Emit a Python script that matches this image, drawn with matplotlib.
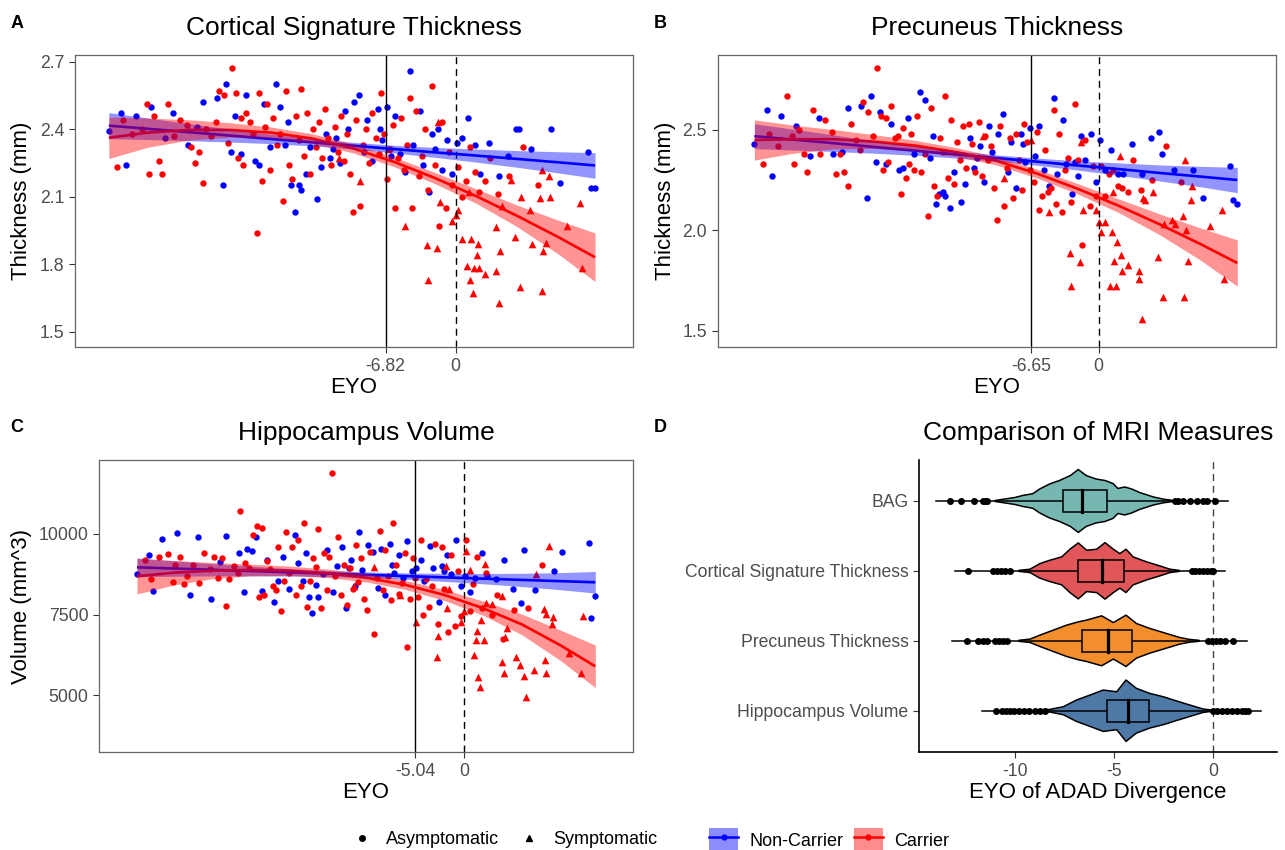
import numpy as np
import matplotlib
matplotlib.use("Agg")
import matplotlib.pyplot as plt
from matplotlib.lines import Line2D
from matplotlib.patches import Patch, Polygon, Rectangle

plt.rcParams['font.family'] = ['Liberation Sans', 'DejaVu Sans']
plt.rcParams['axes.unicode_minus'] = False

# ------------------------------------------------------------------ data
# Non-carriers (all asymptomatic)
nc_eyo = [-33.8, -32.6, -32.1, -31.2, -29.7, -28.3, -27.5, -26.1, -25.2, -24.6,
          -23.3, -22.7, -22.4, -21.9, -21.5, -20.9, -20.4, -19.6, -19.2, -18.7,
          -18.1, -17.5, -17.1, -16.6, -16.3, -16.0, -15.7, -15.3, -15.1, -14.6,
          -14.2, -13.5, -13.1, -12.6, -12.2, -11.7, -11.3, -10.8, -10.5, -9.9,
          -9.4, -8.9, -8.6, -8.1, -7.6, -7.2, -6.7, -6.3, -5.9, -5.4,
          -4.9, -4.4, -4.1, -3.5, -3.2, -2.6, -2.3, -1.7, -1.3, -0.8,
          -0.3, 0.1, 0.6, 1.2, 1.9, 2.4, 3.3, 4.2, 5.1, 5.9,
          6.2, 7.4, 9.3, 10.2, 12.9, 13.2, 13.6, -11.9, -7.4, -2.0]
nc_cst = [2.39, 2.47, 2.24, 2.46, 2.50, 2.36, 2.47, 2.33, 2.41, 2.52,
          2.54, 2.15, 2.60, 2.30, 2.46, 2.29, 2.55, 2.26, 2.24, 2.51,
          2.32, 2.60, 2.50, 2.33, 2.43, 2.15, 2.03, 2.15, 2.13, 2.20,
          2.32, 2.09, 2.23, 2.38, 2.27, 2.36, 2.25, 2.48, 2.40, 2.52,
          2.55, 2.30, 2.44, 2.26, 2.49, 2.35, 2.50, 2.28, 2.46, 2.29,
          2.21, 2.66, 2.33, 2.48, 2.24, 2.12, 2.38, 2.40, 2.22, 2.35,
          2.20, 2.34, 2.36, 2.45, 2.33, 2.20, 2.34, 2.19, 2.28, 2.40,
          2.40, 2.31, 2.40, 2.16, 2.30, 2.14, 2.14, 2.31, 2.40, 2.31]
nc_prec = [2.43, 2.60, 2.27, 2.57, 2.52, 2.37, 2.56, 2.38, 2.39, 2.61,
           2.62, 2.16, 2.67, 2.34, 2.59, 2.33, 2.53, 2.30, 2.31, 2.56,
           2.38, 2.69, 2.65, 2.36, 2.47, 2.13, 2.18, 2.19, 2.17, 2.11,
           2.29, 2.14, 2.23, 2.46, 2.31, 2.42, 2.24, 2.52, 2.39, 2.48,
           2.58, 2.29, 2.44, 2.21, 2.48, 2.34, 2.51, 2.37, 2.52, 2.30,
           2.22, 2.66, 2.28, 2.55, 2.33, 2.18, 2.34, 2.47, 2.35, 2.48,
           2.24, 2.45, 2.30, 2.40, 2.28, 2.28, 2.43, 2.28, 2.46, 2.49,
           2.38, 2.30, 2.30, 2.16, 2.32, 2.15, 2.13, 2.36, 2.43, 2.27]
nc_hip = [8750, 9350, 8240, 9850, 10020, 8100, 9900, 7980, 9120, 9950,
          9400, 8200, 9550, 9460, 9900, 8230, 9200, 7900, 8540, 9300,
          8300, 9980, 9100, 8550, 9400, 8050, 7540, 8420, 8060, 8750,
          9500, 8200, 9000, 9600, 7700, 9200, 8400, 10050, 8870, 9650,
          9450, 8330, 9520, 8100, 9700, 8800, 9350, 8650, 9780, 8850,
          8950, 9200, 8550, 9620, 8950, 7900, 9000, 9350, 8750, 9800,
          8400, 8700, 8200, 8650, 9400, 8700, 8600, 9200, 8300, 7870,
          9500, 8270, 8860, 9430, 9730, 7390, 8080, 8950, 9050, 8850]

# Carriers, asymptomatic
asym_eyo = [-33.0, -32.4, -31.5, -30.6, -30.1, -29.9, -29.4, -28.9, -28.6, -28.0,
            -27.4, -26.9, -26.2, -25.8, -25.4, -25.0, -24.6, -24.3, -23.8, -23.4,
            -23.1, -22.6, -22.2, -21.8, -21.4, -21.2, -20.9, -20.7, -20.4, -20.0,
            -19.7, -19.4, -19.2, -18.9, -18.6, -18.4, -18.1, -17.8, -17.4, -17.1,
            -16.8, -16.5, -16.2, -15.9, -15.6, -15.3, -15.1, -14.8, -14.5, -14.2,
            -13.9, -13.6, -13.3, -13.0, -12.7, -12.4, -12.1, -11.8, -11.5, -11.2,
            -10.9, -10.6, -10.3, -10.0, -9.7, -9.3, -9.0, -8.7, -8.4, -8.1,
            -7.8, -7.5, -7.3, -7.0, -6.7, -6.4, -6.1, -5.9, -5.6, -5.3,
            -5.0, -4.7, -4.4, -4.2, -3.9, -3.6, -3.3, -3.0, -2.7, -2.3,
            -2.0, -1.6, -1.3, -0.9, -0.6, -0.3, 0.25, 0.6, 1.0, 1.4,
            1.9, 2.3, 2.9, 3.4, 4.1, 5.2, 6.6, 8.05]
asym_cst = [2.23, 2.44, 2.38, 2.40, 2.51, 2.20, 2.46, 2.26, 2.20, 2.51,
            2.37, 2.44, 2.42, 2.32, 2.25, 2.30, 2.16, 2.40, 2.37, 2.43,
            2.57, 2.55, 2.34, 2.67, 2.56, 2.27, 2.45, 2.24, 2.47, 2.43,
            2.38, 1.94, 2.56, 2.17, 2.41, 2.51, 2.22, 2.45, 2.33, 2.38,
            2.08, 2.57, 2.24, 2.18, 2.46, 2.35, 2.58, 2.28, 2.47, 2.20,
            2.40, 2.32, 2.43, 2.27, 2.49, 2.36, 2.24, 2.41, 2.30, 2.46,
            2.26, 2.38, 2.20, 2.03, 2.44, 2.06, 2.33, 2.40, 2.25, 2.47,
            2.36, 2.29, 2.56, 2.38, 2.18, 2.31, 2.42, 2.05, 2.27, 2.45,
            2.22, 2.33, 2.54, 2.05, 2.48, 2.19, 2.28, 2.40, 2.13, 2.59,
            2.24, 1.97, 2.43, 2.05, 2.30, 2.15, 2.23, 2.10, 2.17, 2.32,
            2.21, 2.12, 2.17, 2.27, 2.11, 2.19, 2.32, 2.15]
asym_prec = [2.33, 2.48, 2.42, 2.67, 2.47, 2.33, 2.50, 2.38, 2.29, 2.60,
             2.38, 2.55, 2.49, 2.28, 2.38, 2.29, 2.22, 2.53, 2.45, 2.40,
             2.64, 2.59, 2.47, 2.81, 2.57, 2.30, 2.56, 2.34, 2.62, 2.46,
             2.47, 2.18, 2.51, 2.26, 2.33, 2.48, 2.30, 2.57, 2.29, 2.38,
             2.07, 2.61, 2.22, 2.17, 2.46, 2.39, 2.67, 2.26, 2.55, 2.23,
             2.44, 2.35, 2.52, 2.31, 2.53, 2.43, 2.29, 2.54, 2.27, 2.47,
             2.35, 2.42, 2.21, 2.05, 2.52, 2.12, 2.31, 2.46, 2.16, 2.48,
             2.35, 2.20, 2.53, 2.44, 2.30, 2.24, 2.49, 2.10, 2.17, 2.40,
             2.19, 2.21, 2.60, 2.13, 2.48, 2.09, 2.30, 2.36, 2.14, 2.63,
             2.35, 1.93, 2.45, 2.12, 2.32, 2.17, 2.32, 2.17, 2.28, 2.30,
             2.22, 2.21, 2.19, 2.35, 2.20, 2.25, 2.42, 2.24]
asym_hip = [9200, 8600, 9300, 9380, 8500, 9050, 9280, 8450, 8700, 9050,
            8470, 9400, 8900, 9300, 8650, 9260, 7760, 8600, 9000, 8800,
            10700, 9100, 8960, 9980, 10250, 8050, 10200, 8120, 9150, 8930,
            8400, 8250, 9600, 7600, 8550, 10050, 8800, 9600, 8100, 9800,
            8400, 10350, 7730, 8550, 9250, 8980, 10150, 7720, 9400, 8250,
            9280, 11900, 8700, 9900, 8100, 9050, 7800, 8950, 8300, 9650,
            8500, 9250, 8000, 7650, 9450, 6900, 8650, 10100, 8250, 9500,
            8700, 7950, 10350, 9050, 8150, 8480, 9400, 6500, 8000, 9250,
            8650, 8050, 9800, 7500, 8600, 7750, 8400, 9700, 7200, 9600,
            8300, 6950, 9350, 7150, 8850, 7450, 9800, 7600, 8450, 9300,
            7700, 8800, 7500, 8100, 6750, 7650, 7700, 9050]

# Carriers, symptomatic
sym_eyo = [-11.4, -9.3, -6.6, -4.9, -2.8, -2.7, -1.85, -1.75, -1.5, -0.3,
           0.0, 0.25, 0.6, 1.07, 1.3, 1.4, 1.46, 1.66, 1.8, 2.1,
           2.2, 2.3, 2.9, 3.93, 3.97, 4.2, 4.3, 4.5, 5.36, 5.78,
           6.27, 6.4, 7.24, 7.44, 8.28, 8.38, 8.54, 8.8, 8.45, 9.1,
           9.2, 10.9, 12.1, 12.3]
sym_cst = [2.27, 2.17, 2.31, 1.97, 1.885, 1.73, 1.87, 2.43, 2.075, 1.99,
           2.02, 2.04, 1.91, 1.79, 2.12, 1.73, 1.91, 1.67, 1.785, 1.84,
           1.89, 1.785, 1.756, 1.964, 1.77, 1.629, 1.86, 2.06, 2.174, 1.922,
           1.697, 2.10, 2.04, 1.89, 2.093, 1.682, 1.86, 1.895, 2.22, 2.19,
           2.10, 1.97, 2.07, 1.785]
sym_prec = [2.47, 2.26, 2.45, 2.09, 1.89, 1.725, 1.845, 2.44, 2.10, 2.10,
            2.04, 1.99, 2.04, 1.724, 1.99, 2.19, 1.85, 1.724, 1.94, 2.37,
            1.88, 1.80, 1.83, 1.76, 1.80, 1.558, 2.16, 2.15, 2.19, 1.87,
            1.67, 2.03, 2.05, 2.03, 2.07, 1.67, 2.00, 1.85, 2.35, 2.15,
            2.22, 2.02, 2.10, 1.76]
sym_hip = [8400, 8980, 8110, 7280, 6180, 6840, 9000, 7700, 8300, 7280,
           7600, 9480, 8880, 6250, 6720, 7000, 5560, 5270, 7330, 6720,
           9070, 7870, 7830, 8080, 6040, 5680, 6820, 7100, 6180, 5940,
           5610, 4940, 5770, 8760, 7670, 6100, 5680, 9630, 7520, 7210,
           7440, 6300, 5700, 7450]

# Fitted curves with 95% CI half-widths, read at these EYO values
fit_eyo = [-33.8, -30, -26, -22, -18, -14, -10, -6, -2, 2, 6, 10, 13.6]
nc_fit_cst = [2.416, 2.402, 2.387, 2.372, 2.357, 2.342, 2.327, 2.312, 2.297, 2.283, 2.268, 2.253, 2.239]
nc_ci_cst = [0.058, 0.048, 0.038, 0.029, 0.021, 0.016, 0.015, 0.017, 0.022, 0.029, 0.037, 0.047, 0.057]
car_fit_cst = [2.362, 2.385, 2.397, 2.397, 2.385, 2.359, 2.315, 2.255, 2.183, 2.103, 2.015, 1.921, 1.831]
car_ci_cst = [0.092, 0.065, 0.045, 0.032, 0.025, 0.021, 0.020, 0.021, 0.025, 0.032, 0.048, 0.075, 0.108]

nc_fit_prec = [2.469, 2.452, 2.434, 2.415, 2.397, 2.378, 2.360, 2.342, 2.323, 2.305, 2.286, 2.268, 2.251]
nc_ci_prec = [0.062, 0.052, 0.041, 0.031, 0.023, 0.018, 0.016, 0.018, 0.023, 0.031, 0.040, 0.051, 0.063]
car_fit_prec = [2.450, 2.454, 2.454, 2.442, 2.422, 2.390, 2.346, 2.282, 2.206, 2.122, 2.030, 1.932, 1.838]
car_ci_prec = [0.100, 0.070, 0.048, 0.034, 0.026, 0.022, 0.021, 0.022, 0.026, 0.034, 0.052, 0.080, 0.115]

nc_fit_hip = [8967, 8930, 8891, 8852, 8812, 8773, 8734, 8695, 8656, 8616, 8577, 8538, 8503]
nc_ci_hip = [290, 240, 190, 150, 115, 95, 90, 100, 125, 160, 205, 265, 335]
car_fit_hip = [8690, 8800, 8865, 8885, 8860, 8780, 8640, 8420, 8110, 7700, 7200, 6550, 5900]
car_ci_hip = [550, 380, 250, 180, 145, 130, 130, 140, 170, 220, 320, 470, 660]

# Divergence points (EYO)
div_cst = -6.82
div_prec = -6.65
div_hip = -5.04

# Panel D: distribution of divergence EYO
mri_measures = ['BAG', 'Cortical Signature Thickness', 'Precuneus Thickness', 'Hippocampus Volume']
violin_colors = ['#76B7B2', '#E15759', '#F28E2B', '#4E79A7']
bag_vx = [-11.0, -10.0, -9.6, -9.1, -8.75, -8.25, -7.75, -7.2, -6.8, -6.4, -5.9, -5.45, -5.05, -4.8, -4.45, -4.1, -3.7, -3.0, -2.5, -2.0]
bag_vw = [0.007, 0.05, 0.079, 0.104, 0.171, 0.243, 0.293, 0.364, 0.45, 0.364, 0.314, 0.293, 0.25, 0.179, 0.2, 0.171, 0.121, 0.057, 0.026, 0.007]
cst_vx = [-9.8, -9.24, -8.74, -8.23, -7.64, -7.22, -6.8, -6.38, -5.87, -5.45, -5.03, -4.7, -4.39, -4.03, -3.35, -2.68, -2.17, -1.7]
cst_vw = [0.007, 0.024, 0.104, 0.153, 0.2, 0.31, 0.4, 0.296, 0.31, 0.404, 0.31, 0.247, 0.31, 0.2, 0.129, 0.071, 0.024, 0.007]
prec_vx = [-9.8, -9.24, -8.74, -8.06, -7.39, -6.8, -6.38, -5.62, -5.03, -4.39, -3.86, -3.18, -2.34, -1.67, -1.16, -0.7]
prec_vw = [0.007, 0.024, 0.081, 0.153, 0.224, 0.271, 0.296, 0.357, 0.261, 0.367, 0.247, 0.176, 0.104, 0.047, 0.019, 0.007]
hip_vx = [-8.8, -8.23, -7.56, -6.89, -6.21, -5.54, -4.86, -4.39, -3.86, -3.18, -2.51, -1.83, -1.16, -0.49, 0.0]
hip_vw = [0.007, 0.019, 0.057, 0.153, 0.224, 0.296, 0.271, 0.439, 0.319, 0.247, 0.2, 0.139, 0.081, 0.024, 0.007]

box_q1 = [-7.59, -6.80, -6.60, -5.34]
box_med = [-6.63, -5.59, -5.32, -4.28]
box_q3 = [-5.34, -4.48, -4.08, -3.22]
range_lo = [-14.0, -13.03, -13.2, -11.68]
range_hi = [0.77, 0.60, 1.70, 2.41]
bag_out = [-13.3, -12.74, -12.07, -11.6, -11.5, -11.4, -1.92, -1.75, -1.5, -1.16, -0.82, -0.49, -0.32, 0.1]
cst_out = [-12.36, -11.1, -10.9, -10.7, -10.5, -10.25, -1.08, -0.9, -0.7, -0.5, -0.3, -0.1, 0.02]
prec_out = [-12.44, -11.87, -11.6, -11.43, -11.0, -10.8, -10.6, -10.4, -0.24, -0.05, 0.15, 0.35, 0.6, 0.99]
hip_out = [-10.98, -10.67, -10.45, -10.25, -10.05, -9.8, -9.55, -9.3, -9.0, -8.75, -8.48,
           0.02, 0.2, 0.45, 0.7, 0.95, 1.2, 1.45, 1.6, 1.78]

# ------------------------------------------------------------------ layout
W, H = 1285, 850
fig = plt.figure(figsize=(W / 100, H / 100), dpi=100)


def rect(l, t, r, b):
    return [l / W, 1 - b / H, (r - l) / W, (b - t) / H]


def ftext(x, y, s, **kw):
    fig.text(x / W, 1 - y / H, s, **kw)


BLUE = '#0000FF'
RED = '#FF0000'
TICKC = '#4D4D4D'


def scatter_panel(ax, nc_y, asym_y, sym_y, nc_fit, nc_ci, car_fit, car_ci,
                  div, xlim, ylim, yticks, yticklabels):
    ax.scatter(nc_eyo, nc_y, s=21, c=BLUE, marker='o', linewidths=0, zorder=2)
    ax.scatter(asym_eyo, asym_y, s=21, c=RED, marker='o', linewidths=0, zorder=2)
    ax.scatter(sym_eyo, sym_y, s=30, c=RED, marker='^', linewidths=0, zorder=2)
    ax.axvline(div, color='black', lw=1.0, zorder=2.5)
    ax.axvline(0, color='black', lw=1.0, ls=(0, (5, 3.5)), zorder=2.5)
    fx = np.array(fit_eyo)
    nf, nc = np.array(nc_fit), np.array(nc_ci)
    cf, cc = np.array(car_fit), np.array(car_ci)
    ax.plot(fx, nf, color=BLUE, lw=1.9, zorder=3, solid_capstyle='butt')
    ax.plot(fx, cf, color=RED, lw=1.9, zorder=3, solid_capstyle='butt')
    ax.fill_between(fx, nf - nc, nf + nc, color=BLUE, alpha=0.42, lw=0, zorder=4)
    ax.fill_between(fx, cf - cc, cf + cc, color=RED, alpha=0.42, lw=0, zorder=4)
    ax.set_xlim(*xlim)
    ax.set_ylim(*ylim)
    ax.set_xticks([div, 0])
    ax.set_xticklabels([f'{div:.2f}', '0'])
    ax.set_yticks(yticks)
    ax.set_yticklabels(yticklabels)
    ax.tick_params(length=4.3, width=0.8, color='#333333', labelsize=12.7,
                   labelcolor=TICKC, pad=3.5)
    for sp in ax.spines.values():
        sp.set_color('#666666')
        sp.set_linewidth(0.9)


axA = fig.add_axes(rect(75, 55, 633, 347))
scatter_panel(axA, nc_cst, asym_cst, sym_cst, nc_fit_cst, nc_ci_cst, car_fit_cst, car_ci_cst,
              div_cst, (-37.1, 17.3), (1.432, 2.730), [1.5, 1.8, 2.1, 2.4, 2.7],
              ['1.5', '1.8', '2.1', '2.4', '2.7'])

axB = fig.add_axes(rect(717.7, 55, 1276, 347))
scatter_panel(axB, nc_prec, asym_prec, sym_prec, nc_fit_prec, nc_ci_prec, car_fit_prec, car_ci_prec,
              div_prec, (-37.4, 17.4), (1.42, 2.873), [1.5, 2.0, 2.5], ['1.5', '2.0', '2.5'])

axC = fig.add_axes(rect(99.3, 460, 633, 751.7))
scatter_panel(axC, nc_hip, asym_hip, sym_hip, nc_fit_hip, nc_ci_hip, car_fit_hip, car_ci_hip,
              div_hip, (-37.7, 17.5), (3253, 12293), [5000, 7500, 10000], ['5000', '7500', '10000'])

# Panel D
axD = fig.add_axes(rect(919.3, 460, 1276.7, 751.7))
vxs = [bag_vx, cst_vx, prec_vx, hip_vx]
vws = [bag_vw, cst_vw, prec_vw, hip_vw]
outs = [bag_out, cst_out, prec_out, hip_out]
for i in range(len(mri_measures)):
    pos = len(mri_measures) - i
    vx = np.array(vxs[i])
    vw = np.array(vws[i])
    verts = np.concatenate([np.column_stack([vx, pos + vw]),
                            np.column_stack([vx[::-1], pos - vw[::-1]])])
    axD.add_patch(Polygon(verts, closed=True, facecolor=violin_colors[i],
                          edgecolor='black', lw=1.1, joinstyle='round', zorder=2))
    axD.plot([range_lo[i], range_hi[i]], [pos, pos], color='black', lw=1.1, zorder=3)
    axD.add_patch(Rectangle((box_q1[i], pos - 0.155), box_q3[i] - box_q1[i], 0.31,
                            facecolor=violin_colors[i], edgecolor='black', lw=1.1, zorder=4))
    axD.plot([box_med[i], box_med[i]], [pos - 0.155, pos + 0.155], color='black', lw=2.3, zorder=5)
    axD.plot(outs[i], [pos] * len(outs[i]), 'o', color='black', ms=5, mew=0, zorder=6)
axD.axvline(0, color='#444444', lw=1.0, ls=(0, (5, 3.5)), zorder=1)
axD.set_xlim(-14.83, 3.22)
axD.set_ylim(0.414, 4.586)
axD.set_xticks([-10, -5, 0])
axD.set_xticklabels(['-10', '-5', '0'])
axD.set_yticks([4, 3, 2, 1])
axD.set_yticklabels(mri_measures)
axD.spines['top'].set_visible(False)
axD.spines['right'].set_visible(False)
for sp in ('left', 'bottom'):
    axD.spines[sp].set_linewidth(1.2)
    axD.spines[sp].set_color('black')
axD.tick_params(length=4.3, width=0.8, color='#333333', labelsize=12.7,
                labelcolor=TICKC, pad=3.5)

# ------------------------------------------------------------------ texts
title_kw = dict(ha='center', va='center', fontsize=19, color='black')
ftext(354, 28, 'Cortical Signature Thickness', **title_kw)
ftext(997, 28, 'Precuneus Thickness', **title_kw)
ftext(366, 433, 'Hippocampus Volume', **title_kw)
ftext(1098, 433, 'Comparison of MRI Measures', **title_kw)

lab_kw = dict(ha='center', va='center', fontsize=16, color='black')
ftext(354, 387.5, 'EYO', **lab_kw)
ftext(997, 387.5, 'EYO', **lab_kw)
ftext(366, 792.5, 'EYO', **lab_kw)
ftext(1098, 792.5, 'EYO of ADAD Divergence', **lab_kw)
ftext(22, 201, 'Thickness (mm)', rotation=90, **lab_kw)
ftext(665, 201, 'Thickness (mm)', rotation=90, **lab_kw)
ftext(22, 606, 'Volume (mm^3)', rotation=90, **lab_kw)

tag_kw = dict(ha='center', va='center', fontsize=13, fontweight='bold', color='black')
ftext(17, 23, 'A', **tag_kw)
ftext(660, 23, 'B', **tag_kw)
ftext(17, 427, 'C', **tag_kw)
ftext(660, 427, 'D', **tag_kw)

# ------------------------------------------------------------------ legends
h_asym = Line2D([], [], marker='o', color='black', ls='none', ms=4)
h_sym = Line2D([], [], marker='^', color='black', ls='none', ms=5)
fig.legend([h_asym, h_sym], ['Asymptomatic', 'Symptomatic'], loc='center',
           bbox_to_anchor=(505 / W, 1 - 840 / H), ncol=2, frameon=False, fontsize=13,
           handlelength=1.0, handletextpad=0.8, columnspacing=1.2, borderpad=0)
h_nc = (Patch(facecolor=BLUE, alpha=0.45, edgecolor='none'),
        Line2D([], [], color=BLUE, lw=1.8, marker='o', ms=3.5))
h_car = (Patch(facecolor=RED, alpha=0.45, edgecolor='none'),
         Line2D([], [], color=RED, lw=1.8, marker='o', ms=3.5))
fig.legend([h_nc, h_car], ['Non-Carrier', 'Carrier'], loc='center',
           bbox_to_anchor=(829 / W, 1 - 840 / H), ncol=2, frameon=False, fontsize=13,
           handlelength=1.6, handleheight=1.6, handletextpad=0.6, columnspacing=0.6, borderpad=0)

fig.savefig('out.png', dpi=100, facecolor='white')
